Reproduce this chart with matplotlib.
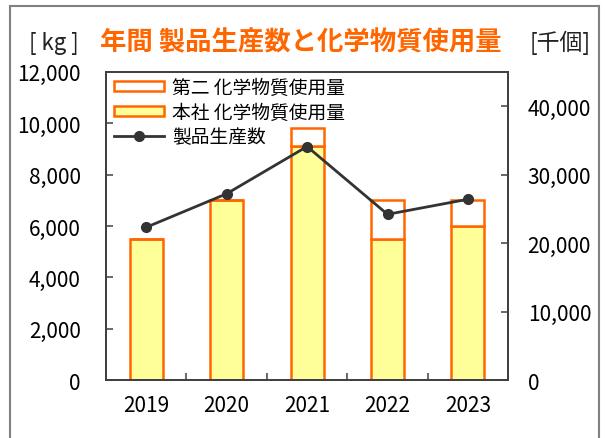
import matplotlib
matplotlib.use('Agg')
import matplotlib.pyplot as plt
import matplotlib.patches as mpatches
import numpy as np

plt.rcParams['font.family'] = ['Noto Sans CJK JP', 'DejaVu Sans']

years = ['2019', '2020', '2021', '2022', '2023']
honsha = [5500, 7000, 9100, 5500, 6000]       # 本社 化学物質使用量 [kg]
daini = [0, 0, 700, 1500, 1000]               # 第二 化学物質使用量 [kg]
production = [22300, 27200, 34100, 24200, 26400]  # 製品生産数 [千個]

orange = '#FF6600'
yellow = '#FFFF99'
axcol = '#404040'

fig = plt.figure(figsize=(6.05, 4.39), dpi=100)
ax = fig.add_axes([0.175, 0.132, 0.665, 0.702])
ax2 = ax.twinx()

x = np.arange(len(years)) + 0.5
w = 0.41
ax.bar(x, honsha, w, color=yellow, edgecolor=orange, linewidth=1.8, zorder=2)
ax.bar(x, daini, w, bottom=honsha, color='white', edgecolor=orange, linewidth=1.8, zorder=2)
l1, = ax2.plot(x, production, color='#333333', lw=2, marker='o', ms=7, zorder=3)

ax.set_xlim(0, 5)
ax.set_ylim(0, 12000)
ax.set_yticks(range(0, 12001, 2000))
ax.set_yticklabels([f'{v:,}' for v in range(0, 12001, 2000)])
ax2.set_ylim(0, 45000)
ax2.set_yticks(range(0, 40001, 10000))
ax2.set_yticklabels([f'{v:,}' for v in range(0, 40001, 10000)])

ax.set_xticks(np.arange(1, 5))
ax.set_xticklabels([])
ax.set_xticks(x, minor=True)
ax.set_xticklabels(years, minor=True, fontsize=15)
ax.tick_params(axis='x', which='minor', length=0, pad=10)
ax.tick_params(axis='x', which='major', direction='in', length=5, color=axcol, width=1.1)
ax.tick_params(axis='y', direction='in', length=5, color=axcol, width=1.1, labelsize=15, pad=18)
ax2.tick_params(axis='y', direction='in', length=5, color=axcol, width=1.1, labelsize=15, pad=14)

for a in (ax, ax2):
    for s in a.spines.values():
        s.set_color(axcol)
        s.set_linewidth(1.3)

h1 = mpatches.Patch(facecolor='white', edgecolor=orange, linewidth=1.8)
h2 = mpatches.Patch(facecolor=yellow, edgecolor=orange, linewidth=1.8)
ax2.legend([h1, h2, l1], ['第二 化学物質使用量', '本社 化学物質使用量', '製品生産数'],
           loc='upper left', bbox_to_anchor=(0.015, 0.99), frameon=False,
           fontsize=13.5, handlelength=2.7, handleheight=0.45, labelspacing=0.2,
           borderpad=0.1, borderaxespad=0, handletextpad=0.4)

fig.text(0.089, 0.902, '[ kg ]', fontsize=16, ha='center', va='center', color='#222222')
fig.text(0.165, 0.902, '年間 製品生産数と化学物質使用量', fontsize=19, ha='left', va='center',
         color=orange, fontweight='bold')
fig.text(0.926, 0.902, '[千個]', fontsize=16.5, ha='center', va='center', color='#222222')

fig.patches.append(mpatches.Rectangle((0.0165, -0.05), 0.974, 1.034, transform=fig.transFigure,
                                      fill=False, edgecolor='#808080', linewidth=1.5, clip_on=False))

fig.savefig('out.png', dpi=100)
